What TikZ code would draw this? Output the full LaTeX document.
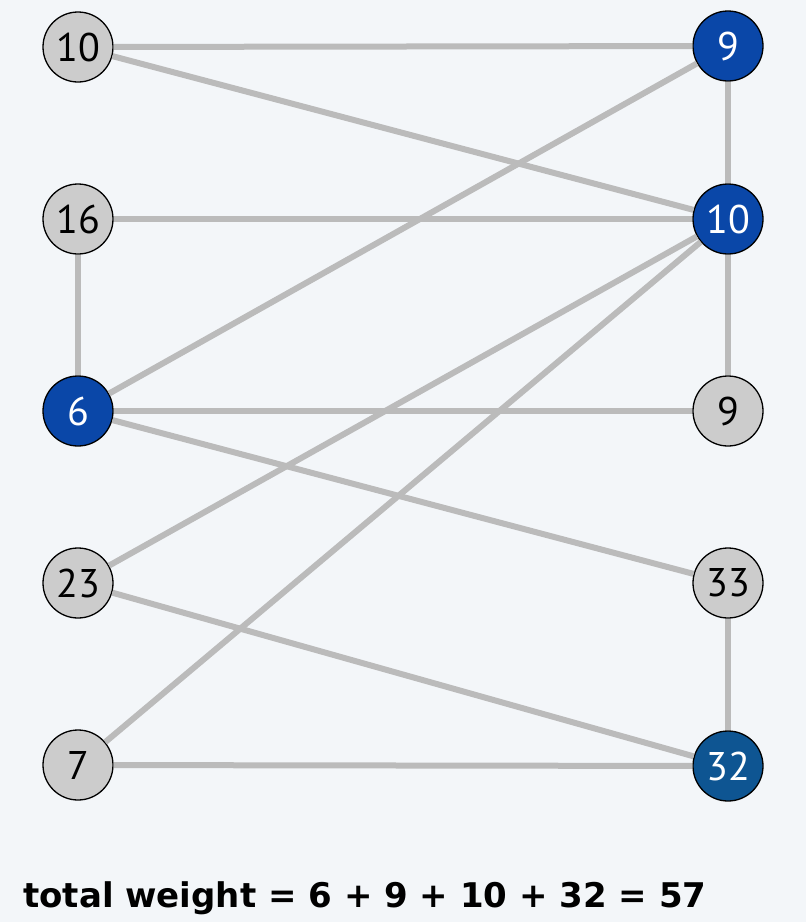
\documentclass[tikz,border=0pt]{standalone}
\usepackage{fontspec}
\setmainfont{PT Sans}
\newfontfamily\twfont{DejaVu Sans}
\definecolor{bgc}{HTML}{F3F6F9}
\definecolor{edgec}{HTML}{BBBBBB}
\definecolor{nodegray}{HTML}{CCCCCC}
\definecolor{blueA}{HTML}{0A47A8}
\definecolor{blueB}{HTML}{0E5592}
\begin{document}
\begin{tikzpicture}[x=1pt,y=-1pt,
  vtx/.style={circle,draw=black,line width=1.3pt,fill=nodegray,minimum size=70pt,inner sep=0pt,font=\fontsize{40}{40}\selectfont,text=black},
  sel/.style={vtx,fill=blueA,text=white},
  sel2/.style={vtx,fill=blueB,text=white},
  edge/.style={draw=edgec,line width=6pt}]
\fill[bgc] (0,0) rectangle (806,922);
\useasboundingbox (0,0) rectangle (806,922);
\node[vtx] (l1) at (78,47) {10};
\node[vtx] (l2) at (78,219) {16};
\node[sel] (l3) at (78,411) {6};
\node[vtx] (l4) at (78,583) {23};
\node[vtx] (l5) at (78,765) {7};
\node[sel] (r1) at (728,46) {9};
\node[sel] (r2) at (728,219) {10};
\node[vtx] (r3) at (728,411) {9};
\node[vtx] (r4) at (728,583) {33};
\node[sel2] (r5) at (728,766) {32};
\path[edge] (l1) -- (r1);
\path[edge] (l1) -- (r2);
\path[edge] (l2) -- (r2);
\path[edge] (l2) -- (l3);
\path[edge] (l3) -- (r1);
\path[edge] (l3) -- (r3);
\path[edge] (l3) -- (r4);
\path[edge] (r1) -- (r2);
\path[edge] (r2) -- (r3);
\path[edge] (l4) -- (r2);
\path[edge] (l5) -- (r2);
\path[edge] (l4) -- (r5);
\path[edge] (l5) -- (r5);
\path[edge] (r4) -- (r5);
\node[anchor=base west,inner sep=0pt,font=\twfont\fontsize{34}{34}\selectfont\bfseries] (tw) at (23,907) {total weight = 6 + 9 + 10 + 32 = 57};
\end{tikzpicture}
\end{document}
